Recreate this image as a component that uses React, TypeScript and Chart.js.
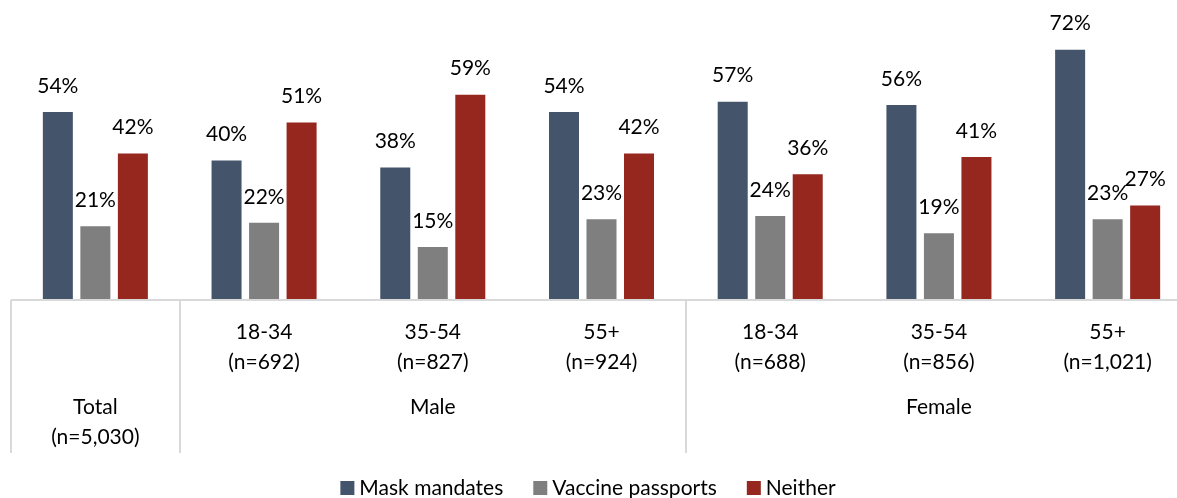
import React, { useEffect, useRef } from "react";
import { Chart, registerables } from "chart.js";

Chart.register(...registerables);

// ---- data ----
const categories = ["Total", "Male 18-34", "Male 35-54", "Male 55+", "Female 18-34", "Female 35-54", "Female 55+"];
const ageLabels = ["", "18-34", "35-54", "55+", "18-34", "35-54", "55+"];
const sampleLabels = ["", "(n=692)", "(n=827)", "(n=924)", "(n=688)", "(n=856)", "(n=1,021)"];
const totalLabels = ["Total", "(n=5,030)"];
const groupLabels = ["Male", "Female"];
const groupRanges = [[0, 0], [1, 3], [4, 6]];
const seriesNames = ["Mask mandates", "Vaccine passports", "Neither"];
const maskMandates = [54, 40, 38, 54, 57, 56, 72];
const vaccinePassports = [21, 22, 15, 23, 24, 19, 23];
const neither = [42, 51, 59, 42, 36, 41, 27];
const colors = ["#44546A", "#7F7F7F", "#95271F"];

const FONT = "Lato";
const FS = 21;
const LINE = "#D9D9D9";

const decorPlugin = {
  id: "decor",
  afterDraw(chart: any) {
    const ctx = chart.ctx as CanvasRenderingContext2D;
    const x = chart.scales.x;
    const area = chart.chartArea;
    const n = categories.length;
    const half = (x.getPixelForValue(1) - x.getPixelForValue(0)) / 2;
    const axisY = area.bottom + 1;
    const lineBottom = 453;
    ctx.save();
    // axis line
    ctx.strokeStyle = LINE;
    ctx.lineWidth = 2;
    ctx.beginPath();
    ctx.moveTo(x.getPixelForValue(0) - half, axisY);
    ctx.lineTo(x.getPixelForValue(n - 1) + half, axisY);
    ctx.stroke();
    // separators
    const bounds: number[] = [x.getPixelForValue(0) - half];
    groupRanges.forEach((r) => bounds.push(x.getPixelForValue(r[1]) + half));
    bounds.forEach((bx) => {
      ctx.beginPath();
      ctx.moveTo(Math.round(bx), axisY);
      ctx.lineTo(Math.round(bx), lineBottom);
      ctx.stroke();
    });
    // tick labels
    ctx.fillStyle = "#000";
    ctx.font = `${FS}px ${FONT}`;
    ctx.textAlign = "center";
    ctx.textBaseline = "middle";
    for (let i = 0; i < n; i++) {
      const px = x.getPixelForValue(i);
      if (ageLabels[i]) ctx.fillText(ageLabels[i], px, 332);
      if (sampleLabels[i]) ctx.fillText(sampleLabels[i], px, 362);
    }
    // group labels
    const tx = x.getPixelForValue(0);
    ctx.fillText(totalLabels[0], tx, 407);
    ctx.fillText(totalLabels[1], tx, 437);
    groupLabels.forEach((g, gi) => {
      const r = groupRanges[gi + 1];
      const cx = (x.getPixelForValue(r[0]) + x.getPixelForValue(r[1])) / 2;
      ctx.fillText(g, cx, 407);
    });
    // legend
    const box = 14;
    const gapBoxText = 5;
    const gapItems = 30;
    const widths = chart.data.datasets.map((d: any) => ctx.measureText(d.label).width);
    const total = widths.reduce((a: number, w: number) => a + box + gapBoxText + w, 0) + gapItems * (widths.length - 1);
    let lx = 588 - total / 2;
    const ly = 488;
    ctx.textAlign = "left";
    chart.data.datasets.forEach((d: any, i: number) => {
      ctx.fillStyle = d.backgroundColor;
      ctx.fillRect(lx, ly - box / 2, box, box);
      lx += box + gapBoxText;
      ctx.fillStyle = "#000";
      ctx.fillText(d.label, lx, ly);
      lx += widths[i] + gapItems;
    });
    ctx.restore();
  },
  afterDatasetsDraw(chart: any) {
    const ctx = chart.ctx as CanvasRenderingContext2D;
    ctx.save();
    ctx.fillStyle = "#000";
    ctx.font = `${FS}px ${FONT}`;
    ctx.textAlign = "center";
    ctx.textBaseline = "middle";
    chart.data.datasets.forEach((d: any, di: number) => {
      const meta = chart.getDatasetMeta(di);
      meta.data.forEach((el: any, i: number) => {
        ctx.fillText(`${d.data[i]}%`, el.x, el.y - 26);
      });
    });
    ctx.restore();
  },
};

export default function App() {
  const ref = useRef<HTMLCanvasElement>(null);
  useEffect(() => {
    if (!ref.current) return;
    const chart = new Chart(ref.current, {
      type: "bar",
      data: {
        labels: categories,
        datasets: [
          { label: seriesNames[0], data: maskMandates, backgroundColor: colors[0] },
          { label: seriesNames[1], data: vaccinePassports, backgroundColor: colors[1] },
          { label: seriesNames[2], data: neither, backgroundColor: colors[2] },
        ],
      },
      options: {
        responsive: false,
        animation: false,
        devicePixelRatio: 1,
        layout: { padding: { left: 11, right: 8, top: 22, bottom: 199 } },
        datasets: { bar: { barPercentage: 0.8, categoryPercentage: 0.667 } },
        scales: {
          x: { display: false, offset: true, grid: { display: false } },
          y: { display: false, min: 0, max: 80 },
        },
        plugins: { legend: { display: false }, tooltip: { enabled: false } },
      },
      plugins: [decorPlugin],
    });
    return () => chart.destroy();
  }, []);
  return (
    <div style={{ position: "fixed", left: 0, top: 0, width: 1177, height: 498, overflow: "hidden", background: "#fff" }}>
      <canvas ref={ref} width={1200} height={498} style={{ display: "block" }} />
    </div>
  );
}
